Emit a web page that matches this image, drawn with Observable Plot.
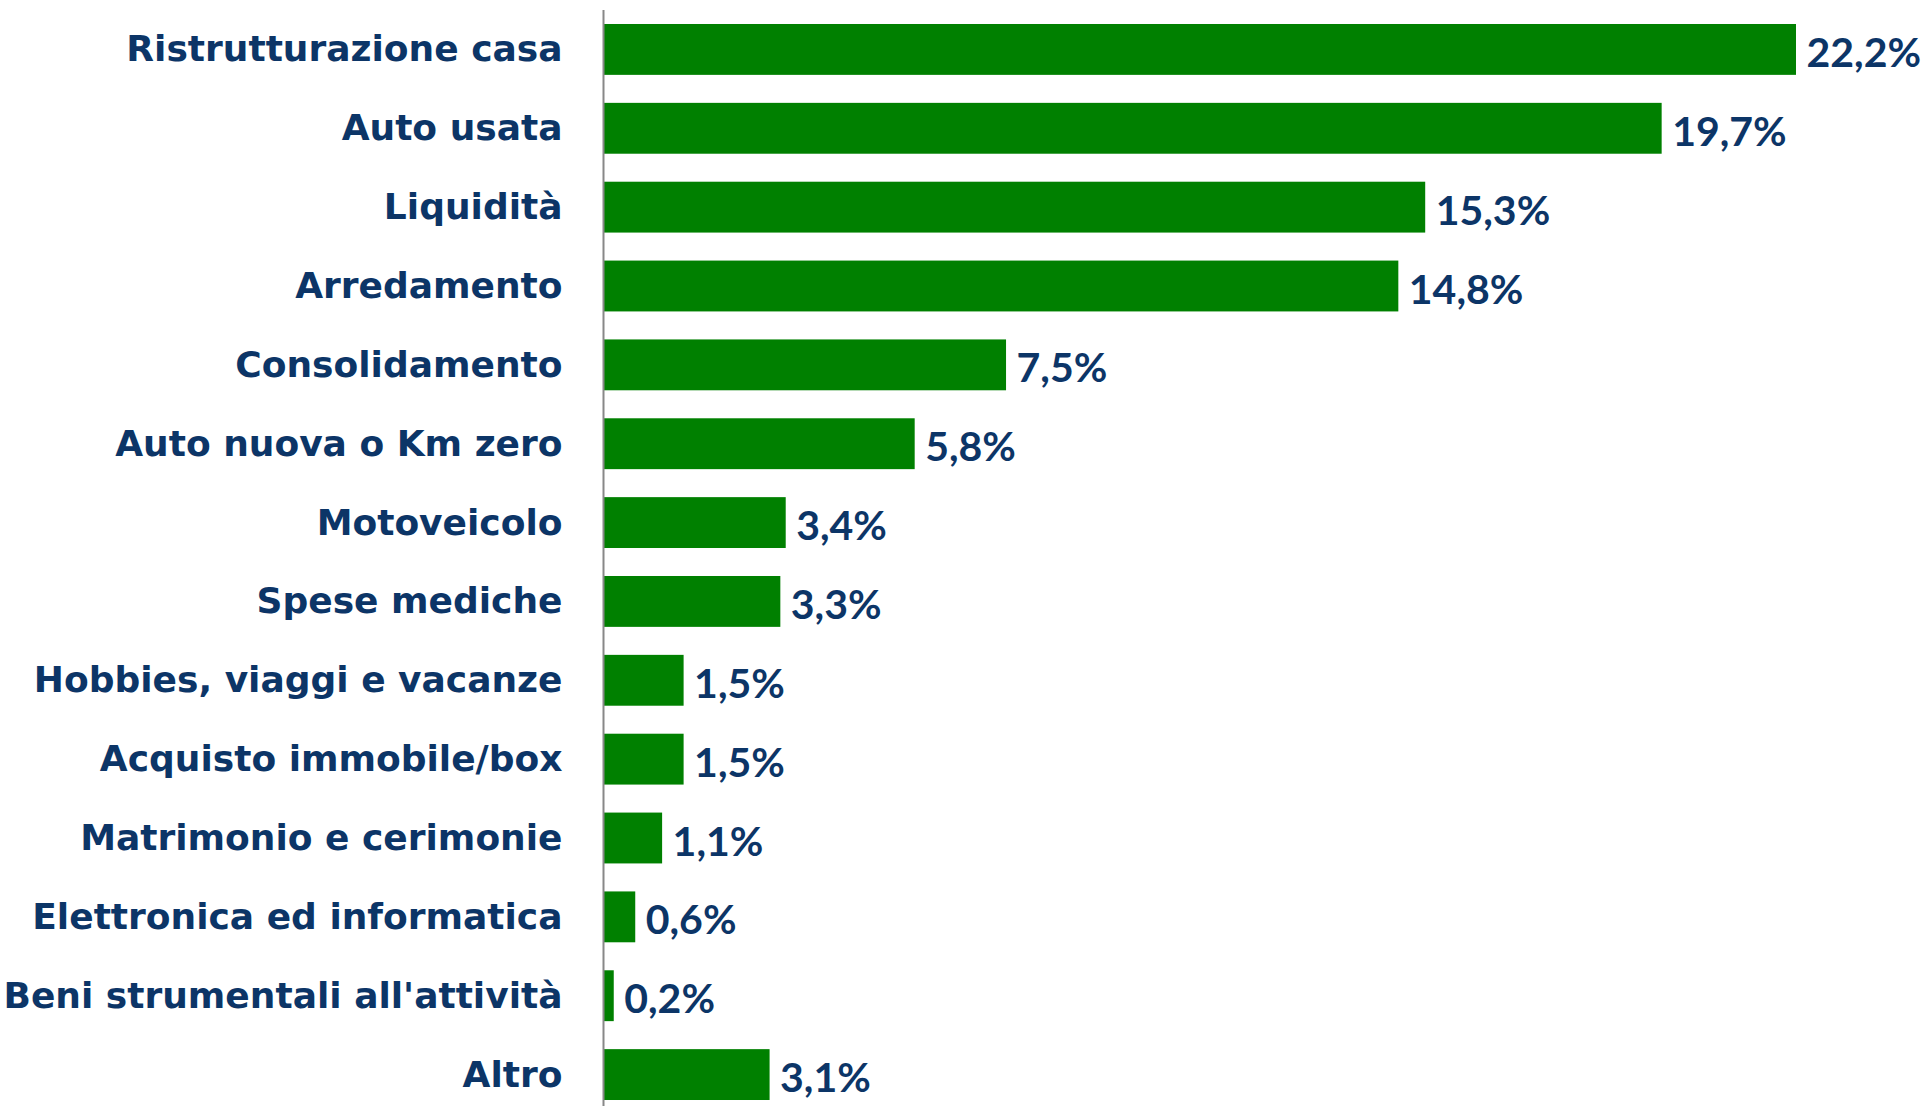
<!DOCTYPE html>
<html>
<head>
<meta charset="utf-8">
<script src="https://cdn.jsdelivr.net/npm/d3@7"></script>
<script src="https://cdn.jsdelivr.net/npm/@observablehq/plot@0.6"></script>
<style>
  html, body { margin: 0; padding: 0; background: #fff; }
  svg { display: block; }
</style>
</head>
<body>
<div id="chart"></div>
<script>
const categories = [
  "Ristrutturazione casa", "Auto usata", "Liquidità", "Arredamento", "Consolidamento",
  "Auto nuova o Km zero", "Motoveicolo", "Spese mediche", "Hobbies, viaggi e vacanze",
  "Acquisto immobile/box", "Matrimonio e cerimonie", "Elettronica ed informatica",
  "Beni strumentali all'attività", "Altro"
];
const values = [22.2, 19.7, 15.3, 14.8, 7.5, 5.8, 3.4, 3.3, 1.5, 1.5, 1.1, 0.6, 0.2, 3.1];

const data = categories.map((c, i) => ({ category: c, value: values[i] }));
const fmt = v => v.toFixed(1).replace(".", ",") + "%";
const FONT = "'DejaVu Sans', sans-serif";
const NAVY = "#0c3567";

const chart = Plot.plot({
  width: 1928,
  height: 1106,
  marginLeft: 603,
  marginRight: 132,
  marginTop: 10,
  marginBottom: 0,
  style: { fontFamily: FONT, background: "#fff" },
  x: { domain: [0, 22.2], axis: null },
  y: { domain: categories, range: [10, 1114], round: false, paddingInner: 0.355, paddingOuter: 0.1775, label: null },
  marks: [
    Plot.barX(data, { x: "value", y: "category", fill: "#008000" }),
    Plot.ruleX([0], { stroke: "#888", strokeWidth: 2 }),
    Plot.text(data, {
      x: "value", y: "category", text: d => fmt(d.value),
      textAnchor: "start", dx: 10, dy: 4, fill: NAVY, fontSize: 41, fontWeight: "bold",
      fontFamily: "Lato, sans-serif"
    }),
    Plot.axisY({
      tickSize: 0, tickPadding: 41, fontSize: 36, fontWeight: "bold",
      fill: NAVY, label: null
    })
  ]
});
document.getElementById("chart").appendChild(chart);
</script>
</body>
</html>
